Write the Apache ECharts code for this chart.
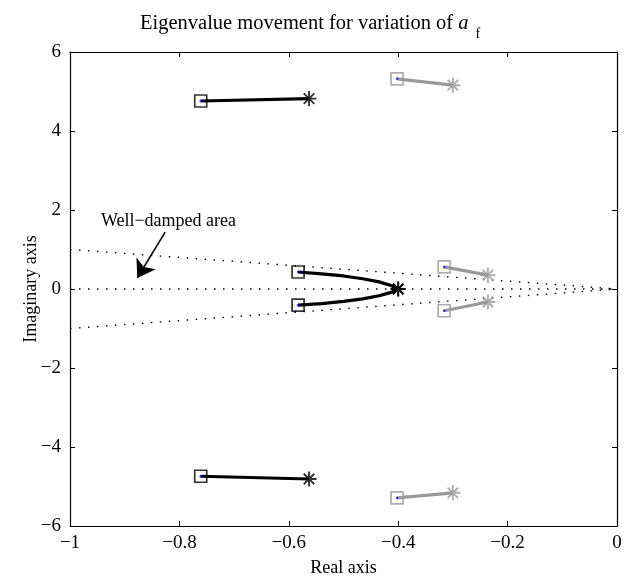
<!DOCTYPE html>
<html>
<head>
<meta charset="utf-8">
<script src="https://cdn.jsdelivr.net/npm/echarts@6/dist/echarts.min.js"></script>
<style>html,body{margin:0;padding:0;background:#fff;}#c{width:637px;height:584px;}</style>
</head>
<body>
<div id="c"></div>
<script>
// Axis ticks
const xTicks = [-1, -0.8, -0.6, -0.4, -0.2, 0];
const yTicks = [-6, -4, -2, 0, 2, 4, 6];

// Eigenvalue trajectories [real, imag] (start = square, end = asterisk)
const blackUpper = [[-0.761, 4.76], [-0.563, 4.82]];
const blackLower = [[-0.761, -4.74], [-0.563, -4.81]];
const blackMidUpper = [[-0.583, 0.43], [-0.54, 0.385], [-0.50, 0.33], [-0.465, 0.26], [-0.435, 0.18], [-0.413, 0.09], [-0.400, 0.0]];
const blackMidLower = [[-0.583, -0.41], [-0.54, -0.37], [-0.50, -0.315], [-0.465, -0.25], [-0.435, -0.17], [-0.413, -0.085], [-0.400, 0.0]];
const grayUpper = [[-0.402, 5.32], [-0.300, 5.16]];
const grayLower = [[-0.402, -5.29], [-0.300, -5.16]];
const grayMidUpper = [[-0.316, 0.56], [-0.236, 0.35]];
const grayMidLower = [[-0.316, -0.55], [-0.236, -0.33]];

// Damping boundary lines (dotted)
const dampUpper = [[-1, 1], [0, 0]];
const dampMid = [[-1, 0], [0, 0]];
const dampLower = [[-1, -1], [0, 0]];

// Annotation
const annotText = 'Well\u2212damped area';
const annotPos = [-0.82, 1.72];
const arrowFrom = [-0.826, 1.44];
const arrowTo = [-0.877, 0.28];

const BLACK = '#000000';
const GRAY = '#999999';
const FONT = 'Liberation Serif';
const ASTER = 'path://M0,-10L0,10M-10,0L10,0M-7,-7L7,7M-7,7L7,-7';

const blackTraj = [blackUpper, blackLower, blackMidUpper, blackMidLower];
const grayTraj = [grayUpper, grayLower, grayMidUpper, grayMidLower];

const series = [];
[dampUpper, dampMid, dampLower].forEach(d => series.push({
  type: 'line', data: d, symbol: 'none', silent: true, z: 1,
  lineStyle: { color: BLACK, width: 1.4, type: [1.5, 7.5], cap: 'butt' }
}));
function traj(d, col) {
  series.push({ type: 'line', data: d, symbol: 'none', smooth: false, z: 3,
    lineStyle: { color: col, width: 3.2 } });
  series.push({ type: 'scatter', data: [d[0]], symbol: 'rect', symbolSize: 12, z: 4,
    itemStyle: { color: 'rgba(0,0,0,0)', borderColor: col, borderWidth: 1.7 } });
  series.push({ type: 'scatter', data: [d[0]], symbol: 'circle', symbolSize: 2.5, z: 5,
    itemStyle: { color: '#0000ff' } });
  series.push({ type: 'scatter', data: [d[d.length - 1]], symbol: ASTER, symbolSize: 15, z: 4,
    itemStyle: { color: 'rgba(0,0,0,0)', borderColor: col, borderWidth: 1.9 } });
}
blackTraj.forEach(d => traj(d, BLACK));
grayTraj.forEach(d => traj(d, GRAY));

series.push({
  type: 'scatter', data: [annotPos], symbolSize: 0, z: 6,
  label: { show: true, position: 'inside', formatter: annotText, color: '#000', fontFamily: FONT, fontSize: 18,
    textBorderWidth: 0, opacity: 1 },
  markLine: {
    silent: true, symbol: ['none', 'arrow'], symbolSize: 17,
    lineStyle: { color: BLACK, width: 1.6, type: 'solid' },
    itemStyle: { color: BLACK },
    label: { show: false },
    data: [[{ coord: arrowFrom }, { coord: arrowTo }]]
  }
});

const axisCommon = {
  type: 'value',
  axisLine: { show: true, onZero: false, lineStyle: { color: BLACK, width: 1.2 } },
  axisTick: { show: true, inside: true, length: 5, lineStyle: { color: BLACK } },
  splitLine: { show: false }
};

const chart = echarts.init(document.getElementById('c'), null, { renderer: 'canvas' });
chart.setOption({
  animation: false,
  backgroundColor: '#ffffff',
  title: {
    text: 'Eigenvalue movement for variation of {i|a}{s|f}',
    left: 135, top: 2,
    textStyle: {
      fontFamily: FONT, fontSize: 20.5, fontWeight: 'normal', color: BLACK,
      rich: {
        i: { fontFamily: FONT, fontStyle: 'italic', fontSize: 20.5, color: BLACK },
        s: { fontFamily: FONT, fontSize: 14, color: BLACK, padding: [20, 0, 0, 7] }
      }
    }
  },
  grid: { left: 70, right: 20, top: 52, bottom: 58, containLabel: false },
  xAxis: [
    Object.assign({}, axisCommon, {
      min: xTicks[0], max: xTicks[xTicks.length - 1], interval: 0.2, position: 'bottom',
      name: 'Real axis', nameLocation: 'middle', nameGap: 33, nameMoveOverlap: false,
      nameTextStyle: { fontFamily: FONT, fontSize: 18, color: BLACK },
      axisLabel: { fontFamily: FONT, fontSize: 19, color: BLACK, margin: 8,
        formatter: v => (v < 0 ? '\u2212' + String(Math.abs(Math.round(v * 10) / 10)) : String(v)) }
    }),
    Object.assign({}, axisCommon, {
      min: xTicks[0], max: xTicks[xTicks.length - 1], interval: 0.2, position: 'top',
      axisLabel: { show: false }
    })
  ],
  yAxis: [
    Object.assign({}, axisCommon, {
      min: yTicks[0], max: yTicks[yTicks.length - 1], interval: 2, position: 'left',
      name: 'Imaginary axis', nameLocation: 'middle', nameGap: 30, nameRotate: 90, nameMoveOverlap: false,
      nameTextStyle: { fontFamily: FONT, fontSize: 18, color: BLACK },
      axisLabel: { fontFamily: FONT, fontSize: 19, color: BLACK, margin: 9,
        formatter: v => (v < 0 ? '\u2212' + Math.abs(v) : String(v)) }
    }),
    Object.assign({}, axisCommon, {
      min: yTicks[0], max: yTicks[yTicks.length - 1], interval: 2, position: 'right',
      axisLabel: { show: false }
    })
  ],
  series: series
});
</script>
</body>
</html>
